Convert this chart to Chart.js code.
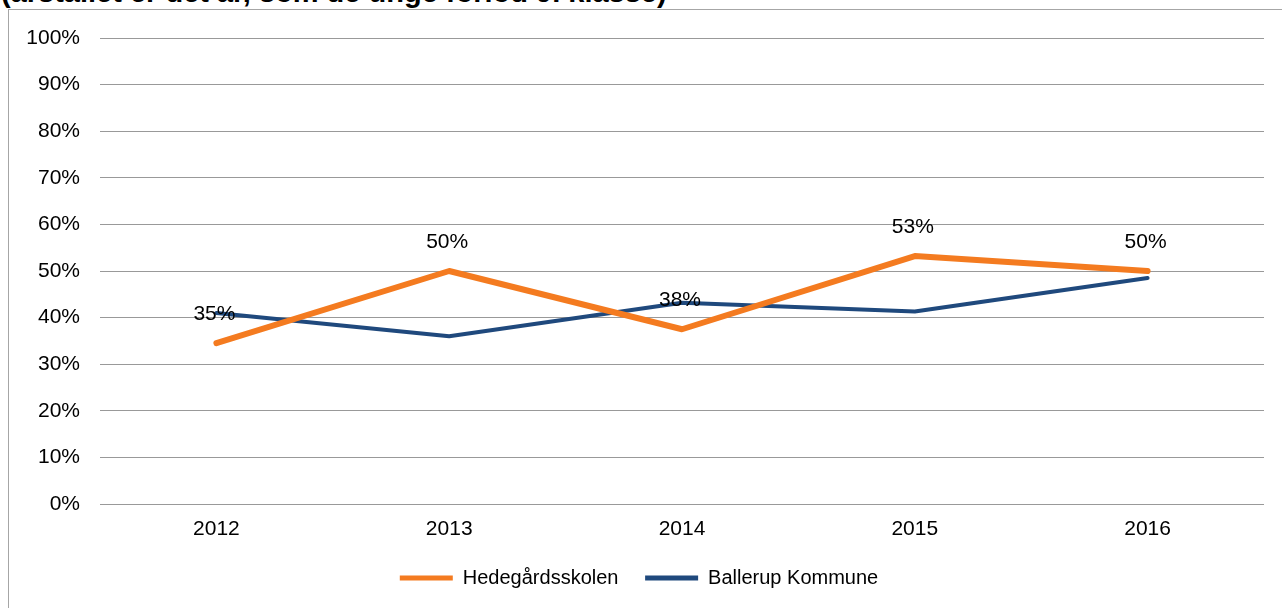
<!DOCTYPE html>
<html>
<head>
<meta charset="utf-8">
<script src="https://cdn.jsdelivr.net/npm/chart.js@4.4.1/dist/chart.umd.min.js"></script>
<style>
  html, body { margin: 0; padding: 0; background: #fff; overflow: hidden; }
  #frame { position: absolute; left: 8px; top: 9px; width: 1400px; height: 700px; border-left: 1px solid #a6a6a6; border-top: 1px solid #a6a6a6; }
  #title { position: absolute; left: 1px; top: -24px; line-height: 29px; font: bold 29px "Liberation Sans", Arial, sans-serif; color: #000; white-space: nowrap; }
  #wrap { position: absolute; left: 0; top: 0; width: 1282px; height: 608px; }
</style>
</head>
<body>
<div id="frame"></div>
<div id="title">(årstallet er det år, som de unge forlod 9. klasse)</div>
<div id="wrap"><canvas id="chart"></canvas></div>
<script>
const years = ['2012', '2013', '2014', '2015', '2016'];
const hedegaard = [34.5, 50, 37.5, 53.2, 50];
const ballerup = [41, 36, 43.2, 41.3, 48.5];
const yTicks = [0, 10, 20, 30, 40, 50, 60, 70, 80, 90, 100];

const FONT = { family: '"Liberation Sans", Arial, sans-serif', size: 21 };

// percent labels over the orange line
const valueLabels = {
    id: 'valueLabels',
    afterDatasetsDraw(chart) {
        const ctx = chart.ctx;
        const meta = chart.getDatasetMeta(0);
        ctx.save();
        ctx.font = '21px "Liberation Sans", Arial, sans-serif';
        ctx.fillStyle = '#000';
        ctx.textAlign = 'center';
        ctx.textBaseline = 'middle';
        meta.data.forEach((pt, i) => {
            ctx.fillText(Math.round(hedegaard[i]) + '%', pt.x - 2, pt.y - 29);
        });
        ctx.restore();
    }
};

const ctx = document.getElementById('chart').getContext('2d');
const chart = new Chart(ctx, {
    type: 'line',
    data: {
        labels: years,
        datasets: [
            {
                label: 'Hedegårdsskolen',
                data: hedegaard,
                borderColor: '#f47b20',
                backgroundColor: '#f47b20',
                borderWidth: 6,
                pointRadius: 0,
                borderCapStyle: 'round',
                borderJoinStyle: 'round',
                tension: 0
            },
            {
                label: 'Ballerup Kommune',
                data: ballerup,
                borderColor: '#1f497d',
                backgroundColor: '#1f497d',
                borderWidth: 4,
                pointRadius: 0,
                borderCapStyle: 'round',
                borderJoinStyle: 'round',
                tension: 0
            }
        ]
    },
    options: {
        responsive: true,
        maintainAspectRatio: false,
        animation: false,
        layout: { padding: { top: 38, right: 18, bottom: 10, left: 14 } },
        plugins: {
            tooltip: { enabled: false },
            legend: {
                position: 'bottom',
                labels: {
                    font: { family: FONT.family, size: 20 },
                    color: '#000',
                    boxWidth: 53,
                    boxHeight: 5,
                    padding: 10,
                    generateLabels(chart) {
                        // extra trailing space widens the gap between the two entries
                        return chart.data.datasets.map((ds, i) => ({
                            text: i === 0 ? ds.label + '   ' : ds.label,
                            fillStyle: ds.borderColor,
                            strokeStyle: ds.borderColor,
                            lineWidth: 0,
                            fontColor: '#000',
                            datasetIndex: i
                        }));
                    }
                }
            }
        },
        scales: {
            x: {
                offset: true,
                grid: { display: false, drawTicks: false },
                border: { display: false },
                ticks: { font: FONT, color: '#000', padding: 13, maxRotation: 0 },
                afterFit(s) { s.height = 54; }
            },
            y: {
                min: 0,
                max: 100,
                afterBuildTicks(s) { s.ticks = yTicks.map(v => ({ value: v })); },
                grid: { color: '#999999', lineWidth: 1, drawTicks: false },
                border: { display: false },
                ticks: { font: FONT, color: '#000', padding: 20, callback: v => v + '%' },
                afterFit(s) { s.width = 86; }
            }
        }
    },
    plugins: [valueLabels]
});
</script>
</body>
</html>
